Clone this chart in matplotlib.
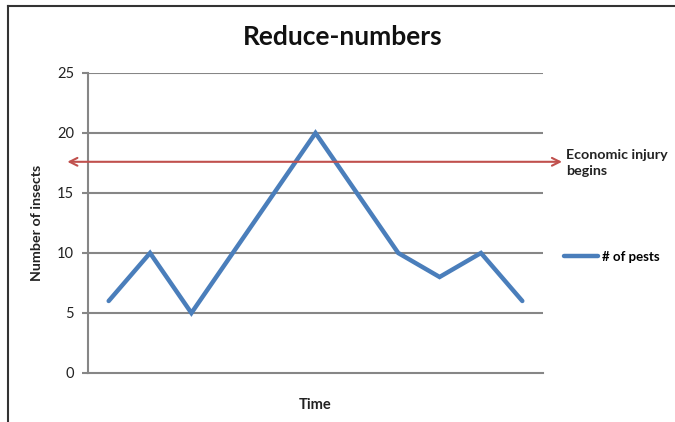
import matplotlib
matplotlib.use("Agg")
import matplotlib.pyplot as plt
from matplotlib.lines import Line2D

plt.rcParams['font.family'] = ['Lato', 'DejaVu Sans']

title = "Reduce-numbers"
pests = [6, 10, 5, 10, 15, 20, 15, 10, 8, 10, 6]
yticks = [0, 5, 10, 15, 20, 25]
injury_level = 17.6
series_label = "# of pests"
injury_label = "Economic injury\nbegins"

fig = plt.figure(figsize=(6.75, 4.22), dpi=100)
ax = fig.add_axes([88/675, 49/422, 455/675, 300/422])

grid_c = '#868686'
x = list(range(len(pests)))
ax.set_xlim(-0.5, len(pests) - 0.5)
ax.set_ylim(0, 25)
ax.set_yticks(yticks)
ax.set_xticks([])
for v in yticks[1:]:
    ax.axhline(v, color=grid_c, lw=1.5, zorder=1)
for s in ['top', 'right']:
    ax.spines[s].set_visible(False)
ax.spines['left'].set_color(grid_c)
ax.spines['left'].set_linewidth(1.5)
ax.spines['bottom'].set_color(grid_c)
ax.spines['bottom'].set_linewidth(1.5)
ax.tick_params(axis='y', colors=grid_c, width=1.5, length=4, labelcolor='#222222', labelsize=10.5, pad=6)

line, = ax.plot(x, pests, color='#4A7EBB', lw=3.2, solid_capstyle='round', solid_joinstyle='miter', zorder=3)

ax.annotate('', xy=(-1.0, injury_level), xytext=(10.96, injury_level), xycoords='data',
            arrowprops=dict(arrowstyle='<->', color='#C0504D', lw=1.5, mutation_scale=14,
                            shrinkA=0, shrinkB=0), annotation_clip=False, zorder=4)

fig.text(566/675, 1 - 163/422, injury_label, fontsize=10.3, fontweight='bold', color='#222222',
         va='center', ha='left', linespacing=1.45)

leg = fig.legend([line], [series_label], loc='center left', bbox_to_anchor=(552/675, 1 - 257/422),
                 frameon=False, handlelength=2.6, handletextpad=0.3,
                 prop={'weight': 'bold', 'size': 9.5})

ax.set_ylabel("Number of insects", fontsize=10.3, fontweight='bold', color='#222222', labelpad=10)
ax.set_xlabel("Time", fontsize=10.5, fontweight='bold', color='#222222', labelpad=18)
fig.text(343/675, 1 - 37/422, title, fontsize=19, fontweight='bold', ha='center', va='center', color='#111111')

fig.add_artist(Line2D([8/675, 8/675], [0, 1 - 6/422], transform=fig.transFigure, color='#333333', lw=1.5))
fig.add_artist(Line2D([8/675, 1], [1 - 6/422, 1 - 6/422], transform=fig.transFigure, color='#333333', lw=1.5))

fig.savefig('out.png', dpi=100)
